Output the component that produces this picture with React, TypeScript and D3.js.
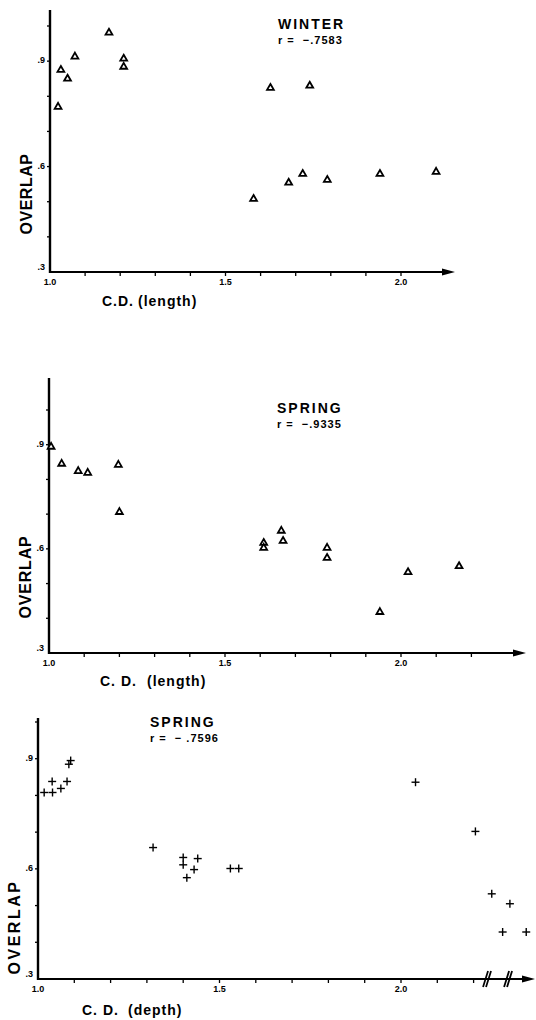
import React from 'react';
import * as d3 from 'd3';

// values
const winterCD = [1.023, 1.031, 1.05, 1.071, 1.168, 1.21, 1.21, 1.58, 1.628, 1.74, 1.68, 1.72, 1.79, 1.94, 2.1];
const winterOverlap = [0.77, 0.875, 0.85, 0.913, 0.981, 0.907, 0.884, 0.508, 0.824, 0.83, 0.554, 0.579, 0.562, 0.579, 0.585];

const springLenCD = [1.006, 1.036, 1.083, 1.11, 1.197, 1.2, 1.61, 1.61, 1.66, 1.665, 1.79, 1.79, 1.94, 2.02, 2.165];
const springLenOverlap = [0.894, 0.845, 0.824, 0.819, 0.842, 0.706, 0.617, 0.603, 0.652, 0.623, 0.603, 0.574, 0.418, 0.533, 0.55];

const springDepthCD = [1.017, 1.04, 1.039, 1.063, 1.08, 1.085, 1.09, 1.317, 1.4, 1.4, 1.41, 1.44, 1.43, 1.53, 1.553, 2.04, 2.205, 2.25, 2.3, 2.28, 2.345];
const springDepthOverlap = [0.808, 0.808, 0.838, 0.819, 0.838, 0.885, 0.895, 0.658, 0.631, 0.611, 0.576, 0.628, 0.598, 0.601, 0.601, 0.836, 0.702, 0.532, 0.505, 0.428, 0.428];

const yTicks = [0.4, 0.5, 0.6, 0.7, 0.8, 0.9, 1.0];
const yLabelValues = [0.3, 0.6, 0.9];
const yLabels = ['.3', '.6', '.9'];
const xLabelValues = [1.0, 1.5, 2.0];
const xLabels = ['1.0', '1.5', '2.0'];
const depthBreaks = [2.237, 2.295];

const FONT = '"Liberation Sans", Arial, sans-serif';

type PanelProps = {
  xs: number[];
  ys: number[];
  marker: 'tri' | 'plus';
  x0: number; x2: number; xEnd: number;
  yBottom: number; yTop: number; axisTop: number;
  xTicksMax: number;
  title: string; rText: string; titleX: number; titleY: number;
  yLabX: number; yLabY: number; yLabSpacing: number;
  cdText: string; cdX: number; unitText: string; unitX: number; labY: number;
  breaks?: number[];
};

function Panel(p: PanelProps) {
  const x = d3.scaleLinear().domain([1.0, 2.0]).range([p.x0, p.x2]);
  const y = d3.scaleLinear().domain([0.3, 1.0]).range([p.yBottom, p.yTop]);
  const xTicks = d3.range(11, Math.round(p.xTicksMax * 10) + 1).map(v => v / 10);
  const tri = d3.symbol().type(d3.symbolTriangle).size(20)();
  const axisY = p.yBottom;
  const ax = p.x0;
  return (
    <g fontFamily={FONT} fontWeight="bold" fill="#000">
      {/* axes */}
      <line x1={ax} x2={ax} y1={p.axisTop} y2={axisY + 1} stroke="#000" strokeWidth={2.4} />
      <line x1={ax - 1} x2={p.xEnd - 10} y1={axisY} y2={axisY} stroke="#000" strokeWidth={2.2} />
      <path d={`M${p.xEnd},${axisY} L${p.xEnd - 13},${axisY - 3.5} L${p.xEnd - 13},${axisY + 3.5} Z`} fill="#000" />
      {yTicks.map(v => (
        <line key={v} x1={ax - 3} x2={ax} y1={y(v)} y2={y(v)} stroke="#000" strokeWidth={1.3} />
      ))}
      {xTicks.map(v => (
        <line key={v} x1={x(v)} x2={x(v)} y1={axisY} y2={axisY + 4} stroke="#000" strokeWidth={1.3} />
      ))}
      {yLabelValues.map((v, i) => (
        <text key={v} x={ax - 5} y={y(v) + (i === 0 ? -2 : 2)} fontSize={9} textAnchor="end">{yLabels[i]}</text>
      ))}
      {xLabelValues.map((v, i) => (
        <text key={v} x={x(v)} y={axisY + 13} fontSize={9} textAnchor="middle">{xLabels[i]}</text>
      ))}
      {p.breaks && p.breaks.map(b => (
        <g key={b} stroke="#000" strokeWidth={1.8}>
          <line x1={x(b) - 4} x2={x(b) + 1} y1={axisY + 8} y2={axisY - 8} />
          <line x1={x(b) - 1} x2={x(b) + 4} y1={axisY + 8} y2={axisY - 8} />
        </g>
      ))}
      {/* marks */}
      {p.xs.map((v, i) =>
        p.marker === 'tri' ? (
          <path key={i} d={tri} transform={`translate(${x(v)},${y(p.ys[i])})`} fill="#fff" stroke="#000" strokeWidth={1.8} />
        ) : (
          <g key={i} stroke="#000" strokeWidth={1.4}>
            <line x1={x(v) - 4} x2={x(v) + 4} y1={y(p.ys[i])} y2={y(p.ys[i])} />
            <line x1={x(v)} x2={x(v)} y1={y(p.ys[i]) - 4} y2={y(p.ys[i]) + 4} />
          </g>
        )
      )}
      {/* titles */}
      <text x={p.titleX} y={p.titleY} fontSize={14} letterSpacing={2}>{p.title}</text>
      <text x={p.titleX} y={p.titleY + 15} fontSize={11} letterSpacing={1} xmlSpace="preserve">{p.rText}</text>
      <text
        transform={`translate(${p.yLabX},${p.yLabY}) rotate(-90)`}
        fontSize={16}
        textAnchor="middle"
        dominantBaseline="central"
        letterSpacing={p.yLabSpacing}
      >OVERLAP</text>
      <text x={p.cdX} y={p.labY} fontSize={14} letterSpacing={1}>{p.cdText}</text>
      <text x={p.unitX} y={p.labY} fontSize={14} letterSpacing={1}>{p.unitText}</text>
    </g>
  );
}

export default function App() {
  return (
    <div style={{ position: 'absolute', top: 0, left: 0, width: 536, height: 1020, background: '#fff' }}>
      <svg width={536} height={1020} style={{ display: 'block' }}>
        <Panel
          xs={winterCD} ys={winterOverlap} marker="tri"
          x0={50} x2={401} xEnd={455} yBottom={272} yTop={26} axisTop={10} xTicksMax={2.0}
          title="WINTER" rText="r =  −.7583" titleX={278} titleY={29}
          yLabX={26} yLabY={194} yLabSpacing={0.5}
          cdText="C.D." cdX={102} unitText="(length)" unitX={138} labY={306}
        />
        <Panel
          xs={springLenCD} ys={springLenOverlap} marker="tri"
          x0={49} x2={401} xEnd={526} yBottom={653} yTop={410} axisTop={378} xTicksMax={2.2}
          title="SPRING" rText="r =  −.9335" titleX={277} titleY={413}
          yLabX={25} yLabY={577} yLabSpacing={0.8}
          cdText="C. D." cdX={100} unitText="(length)" unitX={147} labY={686}
        />
        <Panel
          xs={springDepthCD} ys={springDepthOverlap} marker="plus"
          x0={38} x2={401} xEnd={535} yBottom={979} yTop={722} axisTop={718} xTicksMax={2.2}
          title="SPRING" rText="r =  − .7596" titleX={150} titleY={727}
          yLabX={14} yLabY={927} yLabSpacing={2.5}
          cdText="C. D." cdX={82} unitText="(depth)" unitX={128} labY={1015}
          breaks={depthBreaks}
        />
      </svg>
    </div>
  );
}
